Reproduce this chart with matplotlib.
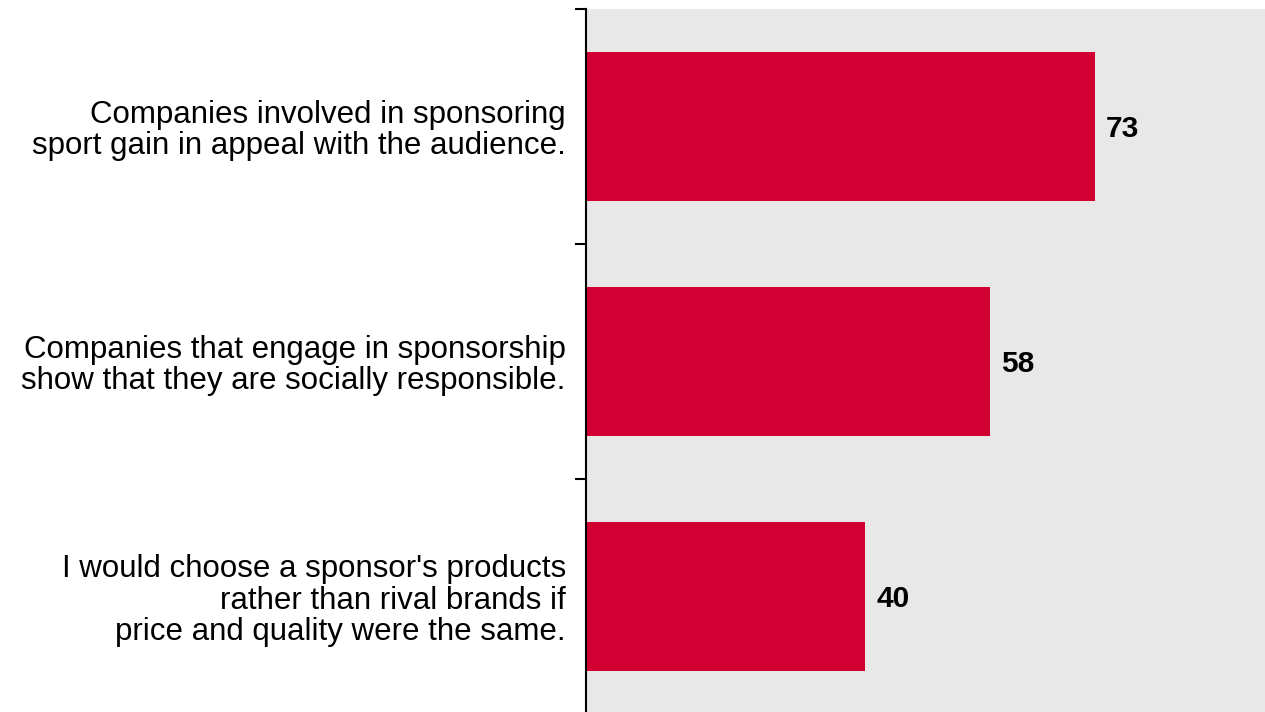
import numpy as np
import matplotlib.pyplot as plt

statements = [
    "Companies involved in sponsoring\nsport gain in appeal with the audience.",
    "Companies that engage in sponsorship\nshow that they are socially responsible.",
    "I would choose a sponsor's products\nrather than rival brands if\nprice and quality were the same.",
]
shares = [73, 58, 40]

plt.rcParams['font.family'] = ['Liberation Sans', 'DejaVu Sans']

fig = plt.figure(figsize=(12.65, 7.12), dpi=100)
ax = fig.add_axes([586 / 1265, -2 / 712, 679 / 1265, 705 / 712])
ax.set_facecolor('#e8e8e8')

y = np.arange(len(statements))
ax.barh(y, shares, height=0.63, color='#d20032')
for yi, v in zip(y, shares):
    ax.text(v + 1.6, yi + 0.012, str(v), va='center', ha='left',
            fontsize=21.5, fontweight='bold', color='black')

ax.set_xlim(0, 97.4)
ax.set_ylim(len(statements) - 0.5, -0.5)
ax.set_xticks([])
ax.set_yticks(y)
ax.set_yticklabels(statements, fontsize=22.5, ha='right', linespacing=1.05)
ax.set_yticks(np.arange(-0.5, len(statements) + 0.5, 1), minor=True)
ax.tick_params(axis='y', which='major', length=0, pad=14.5)
ax.tick_params(axis='y', which='minor', length=8, width=1.5, color='black')

for s in ['top', 'right', 'bottom']:
    ax.spines[s].set_visible(False)
ax.spines['left'].set_linewidth(1.5)
ax.spines['left'].set_color('black')

plt.savefig('out.png', dpi=100)
